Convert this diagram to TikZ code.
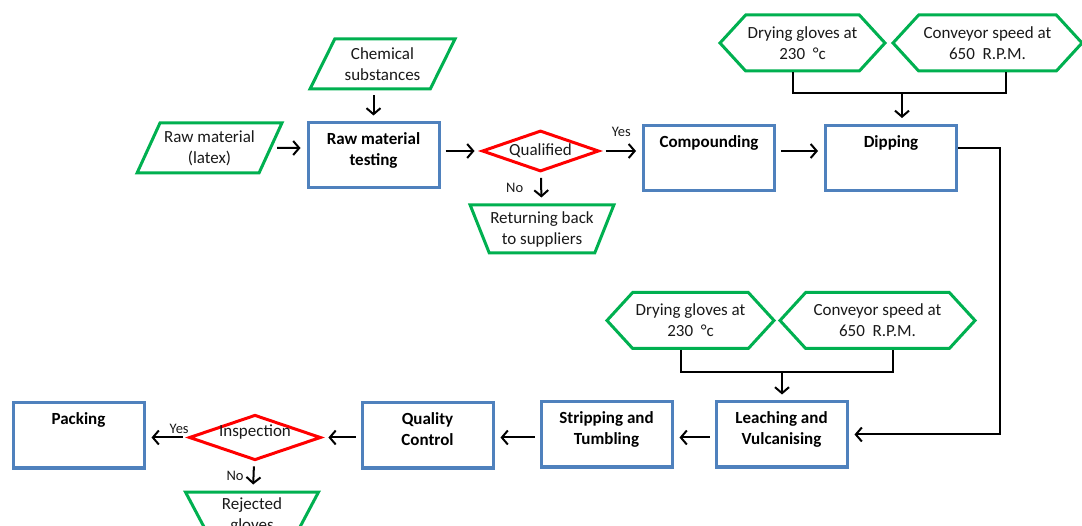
\documentclass[tikz,border=0pt]{standalone}
\usepackage{fontspec}
\setmainfont{Carlito}
\usetikzlibrary{shapes.geometric,shapes.symbols,arrows.meta}

\definecolor{boxblue}{RGB}{79,129,189}
\definecolor{ingreen}{RGB}{0,176,80}
\definecolor{askred}{RGB}{255,0,0}

% text of a process box sits at its top
\newcommand{\boxtext}[1]{\parbox[t][51pt][t]{125pt}{\centering\strut #1}}

\begin{document}
\begin{tikzpicture}[x=1pt, y=-1pt,
    every node/.style={font=\fontsize{17}{21}\selectfont, text=black!90},
    process/.style={rectangle, draw=boxblue, line width=3pt, minimum width=131pt, minimum height=65pt,
        inner xsep=3pt, inner ysep=7pt, font=\fontsize{17}{21}\selectfont\bfseries, text=black},
    supply/.style={trapezium, draw=ingreen, line width=3pt, trapezium left angle=60, trapezium right angle=120,
        trapezium stretches=true, minimum width=145pt, minimum height=50pt, align=center, inner sep=1pt},
    reject/.style={trapezium, draw=ingreen, line width=3pt, trapezium left angle=63, trapezium right angle=63,
        shape border rotate=180, trapezium stretches=true, minimum width=136pt, minimum height=48pt, align=center, inner sep=1pt},
    setting/.style={signal, signal to=west and east, signal pointer angle=95, draw=ingreen, line width=3pt,
        minimum height=56pt, align=center, inner sep=1pt},
    decision/.style={diamond, aspect=2.9, draw=askred, line width=3pt, inner sep=1pt},
    answer/.style={font=\fontsize{14.5}{17}\selectfont, inner sep=1pt},
    flow/.style={draw=black, line width=2pt, -{Straight Barb[length=6pt,width=14pt]}, shorten <=5pt, shorten >=6pt},
    link/.style={draw=black, line width=2pt}]

    \useasboundingbox (0, 0) rectangle (1082, 526);

    % Top row: from the latex to the dipping line
    \node[supply] (raw) at (209.5, 148) {Raw material\\(latex)};
    \node[supply] (chem) at (382.5, 64) {Chemical\\substances};
    \node[process] (test) at (373.5, 155.5) {\boxtext{Raw material\\testing}};
    \node[decision, minimum width=117pt, minimum height=41pt] (qual) at (540.5, 151) {Qualified};
    \node[reject] (ret) at (542, 229) {Returning back\\to suppliers};
    \node[process] (comp) at (709, 158) {\boxtext{Compounding}};
    \node[process] (dip) at (891, 158) {\boxtext{Dipping}};
    \node[setting, minimum width=165pt] (dry1) at (802.5, 43) {Drying gloves at\\230\ \ °c};
    \node[setting, minimum width=189pt] (conv1) at (987.5, 43) {Conveyor speed at\\650\ \ R.P.M.};

    % Bottom row: back to the packing
    \node[setting, minimum width=167pt] (dry2) at (690.5, 320.5) {Drying gloves at\\230\ \ °c};
    \node[setting, minimum width=195pt] (conv2) at (877.5, 320.5) {Conveyor speed at\\650\ \ R.P.M.};
    \node[process] (leach) at (781.5, 434.5) {\boxtext{Leaching and\\Vulcanising}};
    \node[process] (strip) at (606.5, 434.5) {\boxtext{Stripping and\\Tumbling}};
    \node[process] (qc) at (427.5, 435.5) {\boxtext{Quality\\Control}};
    \node[decision, minimum width=128pt, minimum height=45pt, text height=8pt, text depth=10pt] (insp) at (255, 437.5) {Inspection};
    \node[process] (pack) at (78.5, 435.5) {\boxtext{Packing}};
    \node[reject, minimum width=134pt] (rej) at (252, 516) {Rejected\\gloves};

    % Arrows of the top row
    \draw[flow] (raw) -- (raw -| test.west);
    \draw[flow] (test.north |- chem.south) -- (test.north);
    \draw[flow] (test.east |- qual) -- (qual);
    \draw[flow] (qual) -- node[answer, above=12pt] {Yes} (qual -| comp.west);
    \draw[flow] (qual) -- node[answer, left=16pt] {No} (ret);
    \draw[flow] (comp.east |- qual) -- (dip.west |- qual);
    \coordinate (jt) at (902, 93);
    \draw[link] ([xshift=-10pt]dry1.south) |- (jt) -| ([xshift=18pt]conv1.south);
    \draw[flow, shorten <=0pt] (jt) -- (jt |- dip.north);
    \draw[flow, shorten <=0pt] ([yshift=10pt]dip.east) -- ++(42, 0) |- (leach.east);

    % Arrows of the bottom row
    \coordinate (jb) at (782, 372);
    \draw[link] ([xshift=-9.5pt]dry2.south) |- (jb) -| ([xshift=15.5pt]conv2.south);
    \draw[flow, shorten <=0pt] (jb) -- (jb |- leach.north);
    \draw[flow] (leach.west |- insp) -- (strip.east |- insp);
    \draw[flow] (strip.west |- insp) -- (qc.east |- insp);
    \draw[flow] (qc.west |- insp) -- (insp);
    \draw[flow] (insp) -- node[answer, pos=0.2, above=2pt] {Yes} (insp -| pack.east);
    \draw[flow] (insp) -- node[answer, left=8pt] {No} (rej);
\end{tikzpicture}
\end{document}
